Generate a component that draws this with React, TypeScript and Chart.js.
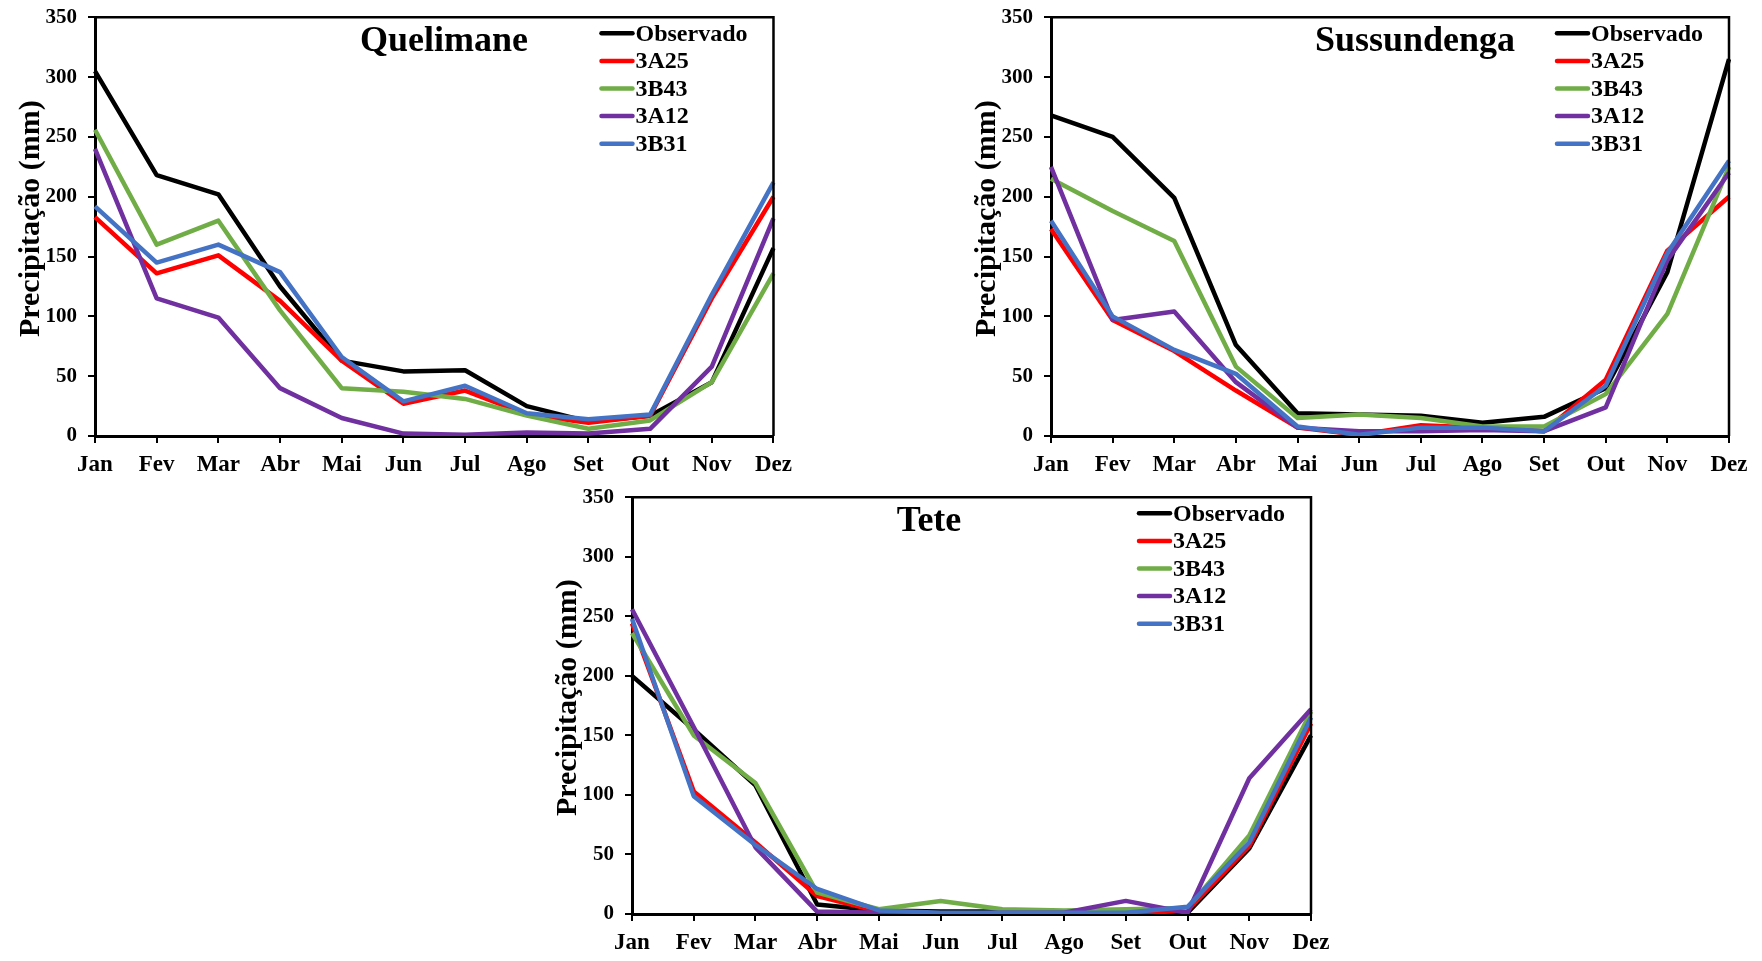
import React, { useEffect, useRef } from "react";
import { Chart, registerables } from "chart.js";

Chart.register(...registerables);

const months = ["Jan", "Fev", "Mar", "Abr", "Mai", "Jun", "Jul", "Ago", "Set", "Out", "Nov", "Dez"];
const seriesNames = ["Observado", "3A25", "3B43", "3A12", "3B31"];
const seriesColors = ["#000000", "#FF0000", "#70AD47", "#7030A0", "#4472C4"];
const yTicks = [0, 50, 100, 150, 200, 250, 300, 350];

const quelimaneObs = [305, 218, 202, 125, 63, 54, 55, 25, 12, 17, 45, 157];
const quelimane3A25 = [183, 136, 151, 113, 63, 27, 38, 18, 11, 17, 115, 200];
const quelimane3B43 = [256, 160, 180, 105, 40, 37, 31, 17, 6, 13, 45, 136];
const quelimane3A12 = [240, 115, 99, 40, 15, 2, 1, 3, 2, 6, 58, 182];
const quelimane3B31 = [192, 145, 160, 137, 66, 29, 42, 19, 14, 18, 118, 212];

const sussundengaObs = [268, 250, 199, 76, 19, 18, 17, 11, 16, 40, 137, 315];
const sussundenga3A25 = [173, 97, 71, 38, 7, 1, 9, 7, 4, 47, 155, 200];
const sussundenga3B43 = [215, 188, 163, 58, 15, 18, 15, 8, 8, 35, 102, 225];
const sussundenga3A12 = [225, 97, 104, 45, 7, 4, 4, 5, 4, 24, 147, 220];
const sussundenga3B31 = [180, 100, 72, 52, 8, 1, 7, 7, 4, 42, 153, 230];

const teteObs = [200, 155, 108, 8, 3, 2, 2, 1, 0, 1, 55, 150];
const tete3A25 = [244, 103, 60, 15, 2, 0, 0, 0, 0, 3, 57, 160];
const tete3B43 = [236, 150, 110, 18, 4, 11, 4, 3, 4, 5, 66, 170];
const tete3A12 = [256, 157, 56, 2, 1, 0, 1, 1, 11, 1, 114, 172];
const tete3B31 = [248, 99, 58, 21, 3, 1, 1, 1, 1, 6, 60, 165];

const FONT = '"Liberation Serif", "Times New Roman", serif';

type PanelCfg = {
  title: string;
  series: number[][];
  left: number;
  top: number;
  width: number;
  height: number;
  areaLeft: number;
  areaTop: number;
  areaRight: number;
  areaBottom: number;
  titleDx: number;
};

const panels: PanelCfg[] = [
  {
    title: "Quelimane",
    series: [quelimaneObs, quelimane3A25, quelimane3B43, quelimane3A12, quelimane3B31],
    left: 0, top: 0, width: 800, height: 480,
    areaLeft: 95, areaTop: 16, areaRight: 774, areaBottom: 436,
    titleDx: 349,
  },
  {
    title: "Sussundenga",
    series: [sussundengaObs, sussundenga3A25, sussundenga3B43, sussundenga3A12, sussundenga3B31],
    left: 880, top: 0, width: 882, height: 480,
    areaLeft: 171, areaTop: 16, areaRight: 849, areaBottom: 436,
    titleDx: 364,
  },
  {
    title: "Tete",
    series: [teteObs, tete3A25, tete3B43, tete3A12, tete3B31],
    left: 540, top: 480, width: 800, height: 481,
    areaLeft: 92, areaTop: 17, areaRight: 771, areaBottom: 434,
    titleDx: 297,
  },
];

function Panel({ cfg }: { cfg: PanelCfg }) {
  const ref = useRef<HTMLCanvasElement | null>(null);
  useEffect(() => {
    if (!ref.current) return;
    const deco = {
      id: "deco",
      afterDraw(chart: any) {
        const { ctx, chartArea: a } = chart;
        ctx.save();
        ctx.strokeStyle = "#000";
        ctx.lineWidth = 2.5;
        ctx.beginPath();
        ctx.moveTo(a.left, a.top);
        ctx.lineTo(a.right, a.top);
        ctx.lineTo(a.right, a.bottom);
        ctx.stroke();

        ctx.fillStyle = "#000";
        ctx.textAlign = "center";
        ctx.textBaseline = "middle";
        ctx.font = `bold 36px ${FONT}`;
        ctx.fillText(cfg.title, a.left + cfg.titleDx, a.top + 24);

        ctx.font = `bold 24px ${FONT}`;
        ctx.textAlign = "left";
        chart.data.datasets.forEach((ds: any, i: number) => {
          const y = a.top + 16 + i * 27.6;
          const x0 = a.right - 172;
          ctx.strokeStyle = ds.borderColor;
          ctx.lineWidth = 4.5;
          ctx.lineCap = "round";
          ctx.beginPath();
          ctx.moveTo(x0, y);
          ctx.lineTo(x0 + 31, y);
          ctx.stroke();
          ctx.fillText(ds.label, x0 + 34, y + 1);
        });

        ctx.translate(a.left - 64, (a.top + a.bottom) / 2 - 8);
        ctx.rotate(-Math.PI / 2);
        ctx.textAlign = "center";
        ctx.font = `bold 30px ${FONT}`;
        ctx.fillText("Precipitação (mm)", 0, 0);
        ctx.restore();
      },
    };

    const chart = new Chart(ref.current, {
      type: "line",
      data: {
        labels: months,
        datasets: cfg.series.map((vals, i) => ({
          label: seriesNames[i],
          data: vals,
          borderColor: seriesColors[i],
          backgroundColor: seriesColors[i],
          borderWidth: 4.5,
          pointRadius: 0,
          tension: 0,
          borderJoinStyle: "round" as const,
          order: seriesNames.length - i,
        })),
      },
      options: {
        animation: false,
        responsive: false,
        maintainAspectRatio: false,
        layout: {
          padding: {
            left: 0,
            top: cfg.areaTop,
            right: cfg.width - cfg.areaRight,
            bottom: 0,
          },
        },
        plugins: {
          legend: { display: false },
          tooltip: { enabled: false },
          title: { display: false },
        },
        scales: {
          x: {
            type: "category",
            offset: false,
            grid: {
              display: true,
              drawOnChartArea: false,
              drawTicks: true,
              tickLength: 7,
              color: "#000",
              lineWidth: 2,
            },
            border: { display: true, color: "#000", width: 3 },
            ticks: {
              color: "#000",
              padding: 8,
              maxRotation: 0,
              autoSkip: false,
              font: { family: FONT, size: 23, weight: "bold" },
            },
            afterFit(scale: any) {
              scale.height = cfg.height - cfg.areaBottom;
            },
          },
          y: {
            min: 0,
            max: 350,
            afterBuildTicks(scale: any) {
              scale.ticks = yTicks.map((v) => ({ value: v }));
            },
            grid: {
              display: true,
              drawOnChartArea: false,
              drawTicks: true,
              tickLength: 7,
              color: "#000",
              lineWidth: 2,
            },
            border: { display: true, color: "#000", width: 3 },
            ticks: {
              color: "#000",
              padding: 11,
              font: { family: FONT, size: 21, weight: "bold", lineHeight: 0.6 },
            },
            afterFit(scale: any) {
              scale.width = cfg.areaLeft;
            },
          },
        },
      },
      plugins: [deco],
    } as any);
    return () => chart.destroy();
  }, [cfg]);

  return (
    <canvas
      ref={ref}
      width={cfg.width}
      height={cfg.height}
      style={{
        position: "absolute",
        left: cfg.left,
        top: cfg.top,
        width: cfg.width,
        height: cfg.height,
      }}
    />
  );
}

export default function App() {
  return (
    <div
      style={{
        position: "fixed",
        left: 0,
        top: 0,
        width: 1762,
        height: 961,
        background: "#fff",
        overflow: "hidden",
      }}
    >
      {panels.map((p) => (
        <Panel key={p.title} cfg={p} />
      ))}
    </div>
  );
}
